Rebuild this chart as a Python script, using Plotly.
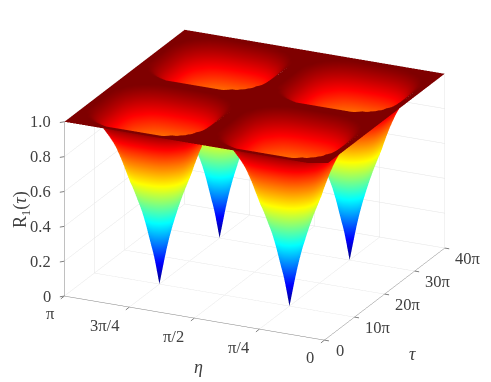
import numpy as np
import plotly.graph_objects as go

# Fraction of the way from a well's centre to the edge of its cell
well_offset = [0, 1/12, 2/12, 3/12, 4/12, 5/12, 6/12, 7/12, 8/12, 9/12, 10/12, 11/12, 1]

well_quarter = [
    [0.00, 0.16, 0.31, 0.43, 0.53, 0.62, 0.73, 0.82, 0.885, 0.94, 0.975, 1, 1],
    [0.16, 0.222, 0.339, 0.442, 0.535, 0.623, 0.731, 0.821, 0.885, 0.94, 0.975, 1, 1],
    [0.31, 0.339, 0.41, 0.481, 0.558, 0.639, 0.739, 0.823, 0.887, 0.941, 0.976, 1, 1],
    [0.43, 0.442, 0.481, 0.54, 0.597, 0.672, 0.757, 0.832, 0.893, 0.944, 0.977, 1, 1],
    [0.53, 0.535, 0.558, 0.597, 0.657, 0.723, 0.787, 0.847, 0.903, 0.949, 0.98, 1, 1],
    [0.62, 0.623, 0.639, 0.672, 0.723, 0.778, 0.827, 0.869, 0.918, 0.957, 0.985, 1, 1],
    [0.73, 0.731, 0.739, 0.757, 0.787, 0.827, 0.865, 0.898, 0.94, 0.967, 0.992, 1, 1],
    [0.82, 0.821, 0.823, 0.832, 0.847, 0.869, 0.898, 0.93, 0.957, 0.981, 1, 1, 1],
    [0.885, 0.885, 0.887, 0.893, 0.903, 0.918, 0.94, 0.957, 0.977, 0.994, 1, 1, 1],
    [0.94, 0.94, 0.941, 0.944, 0.949, 0.957, 0.967, 0.981, 0.994, 1, 1, 1, 1],
    [0.975, 0.975, 0.976, 0.977, 0.98, 0.985, 0.992, 1, 1, 1, 1, 1, 1],
    [1, 1, 1, 1, 1, 1, 1, 1, 1, 1, 1, 1, 1],
    [1, 1, 1, 1, 1, 1, 1, 1, 1, 1, 1, 1, 1],
]

# Well centres, in units of pi, and half-width of a cell
eta_centres = [0.25, 0.75]
eta_half = 0.25
tau_centres = [10, 30]
tau_half = 10

eta_ticks = [0, 0.25, 0.5, 0.75, 1]
eta_labels = ["0", "π/4", "π/2", "3π/4", "π"]
tau_ticks = [0, 10, 20, 30, 40]
tau_labels = ["0", "10π", "20π", "30π", "40π"]
z_ticks = [0, 0.2, 0.4, 0.6, 0.8, 1.0]
z_labels = ["0", "0.2", "0.4", "0.6", "0.8", "1.0"]

jet = [[0, "#00007f"], [0.125, "#0000ff"], [0.375, "#00ffff"],
       [0.625, "#ffff00"], [0.875, "#ff0000"], [1, "#7f0000"]]


def axis_nodes(centres, half):
    off = np.array(well_offset)
    nodes = []
    for k, c in enumerate(centres):
        seg = np.concatenate([c - half * off[::-1], c + half * off[1:]])
        nodes.append(seg if k == 0 else seg[1:])
    return np.concatenate(nodes)


q = np.array(well_quarter)
cell = np.block([[q[::-1, ::-1], q[::-1, 1:]], [q[1:, ::-1], q[1:, 1:]]])
row = np.hstack([cell, cell[:, 1:]])
Z = np.vstack([row, row[1:, :]])

eta = axis_nodes(eta_centres, eta_half)
tau = axis_nodes(tau_centres, tau_half)

FONT = "Liberation Serif"
TXT = "#404040"
AXIS = "#808080"
TICKFONT = dict(family=FONT, size=16.5, color=TXT)
W, H = 491, 382
PAGE_MARGIN = 8


def ax(vals, rng):
    return dict(
        title=dict(text=""),
        tickmode="array", tickvals=vals, range=rng, showticklabels=False,
        showgrid=True, gridcolor="#e4e4e4", gridwidth=1,
        showline=True, linecolor=AXIS, linewidth=1,
        ticks="", showbackground=False, zeroline=False, showspikes=False,
        autorange=False,
    )


def tick_mark(x, y, z, dx, dy):
    return dict(x=x, y=y, z=z, text=" ", showarrow=True, arrowhead=0,
                arrowwidth=1, arrowcolor=AXIS, ax=dx, ay=dy, standoff=0,
                font=dict(size=1))


notes = []
for v, t in zip(z_ticks, z_labels):
    notes.append(tick_mark(0, 1, v, -6, 1))
    notes.append(dict(x=0, y=1, z=v, text=t, showarrow=False, font=TICKFONT,
                      xanchor="right", yanchor="middle", xshift=-11, yshift=0))
for v, t in zip(eta_ticks, eta_labels):
    notes.append(tick_mark(0, v, 0, -5, 4))
    sx, sy = (-14, -17) if len(t) == 1 else (-25 if len(t) == 4 else -21, -18)
    notes.append(dict(x=0, y=v, z=0, text=t, showarrow=False, font=TICKFONT,
                      xanchor="center", yanchor="middle", xshift=sx, yshift=sy))
for v, t in zip(tau_ticks, tau_labels):
    notes.append(tick_mark(v, 0, 0, 6, 1))
    sx, sy = (16, -10) if len(t) == 1 else (23, -10)
    notes.append(dict(x=v, y=0, z=0, text=t, showarrow=False, font=TICKFONT,
                      xanchor="center", yanchor="middle", xshift=sx, yshift=sy))

titles = [
    dict(text="<i>η</i>", px=198, py=367, angle=0),
    dict(text="<i>τ</i>", px=412, py=354, angle=0),
    dict(text="R<sub>1</sub>(<i>τ</i>)", px=22, py=210, angle=-90),
]

fig = go.Figure(go.Surface(
    x=tau, y=eta, z=Z, colorscale=jet, cmin=0, cmax=1, showscale=False,
    lighting=dict(ambient=1, diffuse=0, specular=0, fresnel=0, roughness=1),
    hoverinfo="skip",
))
fig.update_layout(
    width=W, height=H, autosize=False,
    margin=dict(l=0, r=0, t=0, b=0),
    paper_bgcolor="white",
    annotations=[dict(text=t["text"],
                      x=(t["px"] - PAGE_MARGIN) / W,
                      y=1 - (t["py"] - PAGE_MARGIN) / H,
                      xref="paper", yref="paper", showarrow=False,
                      textangle=t["angle"], xanchor="center", yanchor="middle",
                      font=dict(family=FONT, size=18, color=TXT)) for t in titles],
    scene=dict(
        domain=dict(x=[0, 1], y=[0, 1]),
        xaxis=ax(tau_ticks, [0, 40]),
        yaxis=ax(eta_ticks, [0, 1]),
        zaxis=ax(z_ticks, [0, 1.002]),
        aspectmode="manual",
        aspectratio=dict(x=1.48, y=1.505, z=0.98),
        annotations=notes,
        camera=dict(
            projection=dict(type="orthographic"),
            eye=dict(x=-0.931, y=-0.432, z=0.316),
            up=dict(x=0, y=0, z=1),
            center=dict(x=-0.0276, y=-0.007, z=-0.0692),
        ),
    ),
)
fig.write_html("out.html")
